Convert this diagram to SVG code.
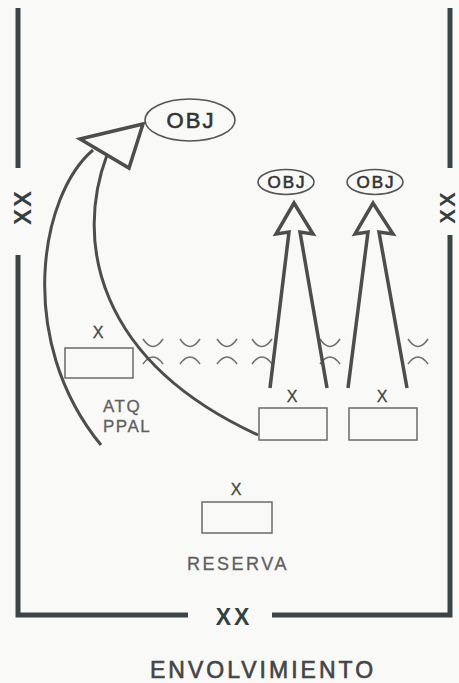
<svg xmlns="http://www.w3.org/2000/svg" width="459" height="683" viewBox="0 0 459 683">
<style>
.border{fill:none;stroke:#3b4446;stroke-width:5;stroke-linecap:butt}
.xx{font-family:"Liberation Sans",Arial,sans-serif;font-weight:bold;fill:#34403f;text-anchor:middle}
.box{fill:none;stroke:#6a6a6a;stroke-width:1.5}
.lbl{font-family:"Liberation Sans",Arial,sans-serif;fill:#5f5f5f;stroke:#5f5f5f;stroke-width:0.3}
.x{font-family:"Liberation Sans",Arial,sans-serif;font-size:16px;fill:#444;stroke:#444;stroke-width:0.3;text-anchor:middle}
.arc{fill:none;stroke:#707070;stroke-width:1.6}
.arrow{fill:none;stroke:#4d4d4d;stroke-width:3.5;stroke-linejoin:miter}
.curve{fill:none;stroke:#4d4d4d;stroke-width:3}
.obj{fill:none;stroke:#555;stroke-width:1.6}
.objt{font-family:"Liberation Sans",Arial,sans-serif;fill:#333;stroke:#333;stroke-width:0.6;text-anchor:middle}
.title{font-family:"Liberation Sans",Arial,sans-serif;fill:#444;stroke:#444;stroke-width:0.6}
</style>
<rect width="459" height="683" fill="#f9f9f8"/>
<g id="frame">
<path class="border" d="M18,8 V168 M18,255 V615 H188 M272,615 H450 V235 M450,168 V8"/>
<text class="xx" font-size="24" letter-spacing="2" transform="translate(31,208) rotate(-90)" x="1">XX</text>
<text class="xx" font-size="22" letter-spacing="2" transform="translate(455,208) rotate(-90)" x="1">XX</text>
<text class="xx" font-size="23" letter-spacing="3" x="234" y="625">XX</text>
</g>
<g id="arcs">
<path class="arc" d="M143,339 Q153,354 163,339 M180,339 Q190,354 200,339 M217,339 Q227,354 237,339 M252,339 Q262,354 272,339 M320,339 Q330,354 340,339 M408,339 Q418,354 428,339"/>
<path class="arc" d="M143,364 Q153,350 163,364 M180,364 Q190,350 200,364 M217,364 Q227,350 237,364 M252,364 Q262,350 272,364 M320,364 Q330,350 340,364 M408,364 Q418,350 428,364"/>
</g>
<g id="atq-ppal">
<rect class="box" x="65" y="348" width="68" height="30"/>
<text class="x" x="98" y="338">X</text>
<text class="lbl" font-size="17" letter-spacing="1.5" x="103" y="412">ATQ</text>
<text class="lbl" font-size="17" letter-spacing="1.5" x="103" y="432">PPAL</text>
</g>
<g id="unit2">
<rect class="box" x="259" y="408" width="68" height="32"/>
<text class="x" x="292" y="402">X</text>
</g>
<g id="unit3">
<rect class="box" x="349" y="408" width="68" height="32"/>
<text class="x" x="382" y="402">X</text>
</g>
<g id="reserva">
<rect class="box" x="202" y="502" width="70" height="31"/>
<text class="x" x="236" y="495">X</text>
<text class="lbl" font-size="18" letter-spacing="2.5" text-anchor="middle" x="238" y="570">RESERVA</text>
</g>
<g id="obj-main">
<ellipse class="obj" cx="190" cy="120" rx="45" ry="21"/>
<text class="objt" font-size="22" letter-spacing="2" x="191" y="128">OBJ</text>
</g>
<g id="obj-2">
<ellipse class="obj" cx="286" cy="182" rx="28" ry="12.5"/>
<text class="objt" font-size="17" letter-spacing="2" x="287" y="188">OBJ</text>
</g>
<g id="obj-3">
<ellipse class="obj" cx="375" cy="182" rx="28" ry="12.5"/>
<text class="objt" font-size="17" letter-spacing="2" x="376" y="188">OBJ</text>
</g>
<g id="connectors">
<path class="curve" d="M93,150 C40,195 15,340 101,445"/>
<path class="curve" d="M107,155 C75,240 95,360 258,435"/>
<path class="arrow" d="M80,139 L143,124 L129,168 Z"/>
<path class="arrow" d="M270,388 L289,232 L276,234 L294,203 L313,234 L300,232 L327,388"/>
<path class="arrow" d="M348,388 L368,232 L355,234 L373,203 L393,234 L379,232 L407,388"/>
</g>
<text class="title" font-size="23" letter-spacing="3" x="150" y="678">ENVOLVIMIENTO</text>
</svg>
